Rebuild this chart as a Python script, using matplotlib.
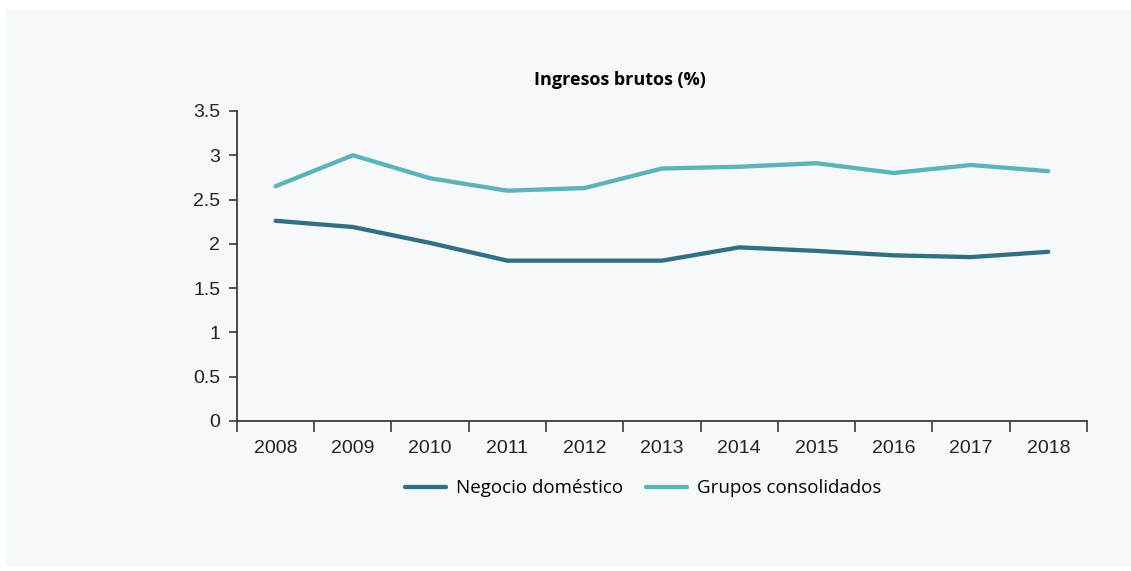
import matplotlib.pyplot as plt
from matplotlib.patches import Rectangle
import numpy as np

# Ingresos brutos, % por año
years = ['2008', '2009', '2010', '2011', '2012', '2013', '2014', '2015', '2016', '2017', '2018']
negocio_domestico = [2.26, 2.19, 2.01, 1.81, 1.81, 1.81, 1.96, 1.92, 1.87, 1.85, 1.91]
grupos_consolidados = [2.65, 3.00, 2.74, 2.60, 2.63, 2.85, 2.87, 2.91, 2.80, 2.89, 2.82]
y_ticks = [0, 0.5, 1, 1.5, 2, 2.5, 3, 3.5]
y_labels = ['0', '0.5', '1', '1.5', '2', '2.5', '3', '3.5']

dark_teal = '#336f83'
light_teal = '#5db3b7'
panel = '#f5f9fa'
axis_col = '#3a3a3a'

fig = plt.figure(figsize=(11.31, 5.71), dpi=100, facecolor='white')
fig.patches.append(Rectangle((6 / 1131, 0.01), 1 - 6 / 1131, 0.974,
                             transform=fig.transFigure, color=panel, zorder=-10))

ax = fig.add_axes([0.2095, 0.2627, 0.7515, 0.543])
ax.set_zorder(1)
ax.set_facecolor(panel)

x = np.arange(len(years))
ax.plot(x, negocio_domestico, color=dark_teal, lw=3.1, solid_capstyle='round',
        solid_joinstyle='round', label='Negocio doméstico')
ax.plot(x, grupos_consolidados, color=light_teal, lw=3.1, solid_capstyle='round',
        solid_joinstyle='round', label='Grupos consolidados')

ax.set_xlim(-0.5, len(years) - 0.5)
ax.set_ylim(0, 3.5)

for s in ['top', 'right']:
    ax.spines[s].set_visible(False)
for s in ['left', 'bottom']:
    ax.spines[s].set_color(axis_col)
    ax.spines[s].set_linewidth(1.3)

ax.set_yticks(y_ticks)
ax.set_yticklabels(y_labels, family='Liberation Sans', fontsize=14, color='#222222')
ax.tick_params(axis='y', length=6, width=1.2, color=axis_col, pad=6)

ax.set_xticks(x)
ax.set_xticklabels(years, family='Liberation Sans', fontsize=14, color='#222222')
ax.set_xticks(np.arange(-0.5, len(years)), minor=True)
ax.tick_params(axis='x', which='major', length=0, pad=14)
ax.tick_params(axis='x', which='minor', length=8, width=1.2, color=axis_col)

fig.text(0.548, 0.86, 'Ingresos brutos (%)', ha='center', va='center',
         family='Open Sans', fontweight='bold', fontsize=13, color='black')

ax.legend(loc='center', bbox_to_anchor=(0.478, -0.217), ncol=2, frameon=False,
          prop={'family': 'Open Sans', 'size': 13.5}, handlelength=2.2,
          handletextpad=0.55, columnspacing=1.2)

fig.savefig('out.png', dpi=100, facecolor='white')
